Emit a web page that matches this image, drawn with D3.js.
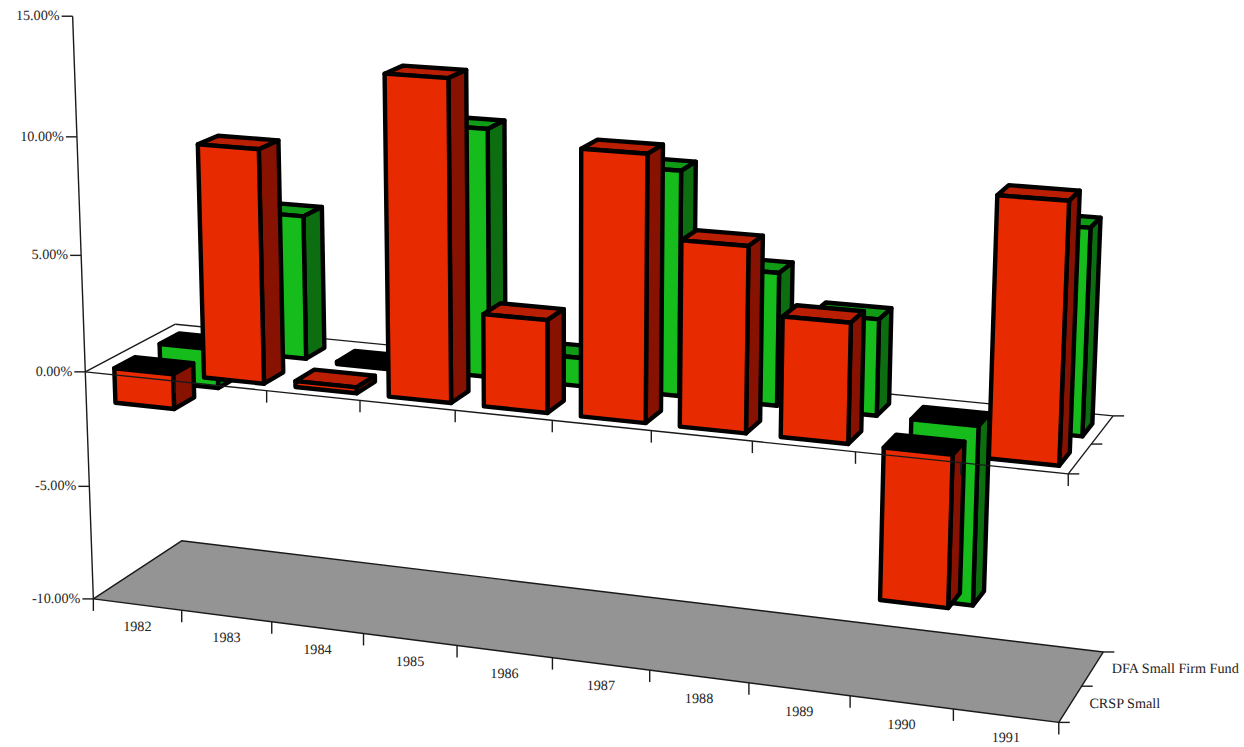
<!DOCTYPE html>
<html><head><meta charset="utf-8">
<script src="https://cdn.jsdelivr.net/npm/d3@7/dist/d3.min.js"></script>
<style>html,body{margin:0;padding:0;background:#fff}svg{display:block}text{font-family:"Liberation Serif","Times New Roman",serif;font-size:14.2px;fill:#222;text-rendering:geometricPrecision}</style>
</head><body><svg id="c" width="1244" height="747"></svg>
<script>
const years=["1982","1983","1984","1985","1986","1987","1988","1989","1990","1991"];
const seriesNames=["CRSP Small","DFA Small Firm Fund"];
const crspSmall=[-1.5,9.87,0.25,13.34,3.84,10.9,7.56,4.87,-6.23,10.33];
const dfaSmall=[-1.7,6.18,-0.1,10.5,1.2,9.38,5.52,3.98,-7.5,8.38];
const valueTicks=[-10,-5,0,5,10,15];
const colors=[{front:"#e82a00",top:"#ba1f04",side:"#881202"},{front:"#16bc1c",top:"#109a15",side:"#0c6e10"}];
// camera calibration: [x,value,z] in chart space -> page pixel
const calib=[[0,-10,0,93,599],[0,-10,2,182,541],[10,-10,2,1103,652],[10,-10,0,1059,722],[0,0,0,86,372],[0,0,2,175,324],[10,0,2,1113,416],[10,0,0,1068,473],[0,15,0,73,16],[0,10,0,77,137],[0,5,0,81,255],[0,-5,0,89,486],[10,0,1,1092,444],[10,-10,1,1082,686],[5,0,0,552,422],[2,0,0,266,390],[1,-10,0,182,610],[2,-10,0,272,622],[7,0,0,752,442]];
function solve(A,b){const n=b.length;const M=A.map((r,i)=>[...r,b[i]]);for(let i=0;i<n;i++){let p=i;for(let k=i+1;k<n;k++)if(Math.abs(M[k][i])>Math.abs(M[p][i]))p=k;[M[i],M[p]]=[M[p],M[i]];for(let k=0;k<n;k++){if(k===i)continue;const f=M[k][i]/M[i][i];for(let j=i;j<=n;j++)M[k][j]-=f*M[i][j];}}return M.map((r,i)=>r[n]/r[i]);}
const rows=[],rhs=[];
calib.forEach(([x,y,z,u,v])=>{rows.push([x,y,z,1,0,0,0,0,-u*x,-u*y,-u*z]);rhs.push(u);rows.push([0,0,0,0,x,y,z,1,-v*x,-v*y,-v*z]);rhs.push(v);});
const ATA=d3.range(11).map(i=>d3.range(11).map(j=>d3.sum(rows,r=>r[i]*r[j])));
const ATb=d3.range(11).map(i=>d3.sum(rows,(r,k)=>r[i]*rhs[k]));
const P=solve(ATA,ATb);
function project(x,y,z){const w=P[8]*x+P[9]*y+P[10]*z+1;return [(P[0]*x+P[1]*y+P[2]*z+P[3])/w,(P[4]*x+P[5]*y+P[6]*z+P[7])/w];}
const xScale=d3.scaleBand().domain(years).range([0,10]);
const zScale=d3.scaleBand().domain(seriesNames).range([0,2]);
const yScale=d3.scaleLinear().domain([-10,15]).range([-10,15]);
const barX=[0.21,0.868],barZ=[0.22,0.67];
const svg=d3.select("#c"),line=d3.line();
const cellX=y=>xScale(y),cellZ=s=>zScale(s);
function poly(g,pts,fill,sw,stroke){return g.append("path").attr("d",line(pts)+"Z").attr("fill",fill).attr("stroke",stroke||"#000").attr("stroke-width",sw).attr("stroke-linejoin","round");}
function seg(g,a,b){g.append("path").attr("d",line([a,b])).attr("fill","none").attr("stroke","#1a1a1a").attr("stroke-width",1.4);}
const floor=yScale(-10),zero=yScale(0);
const base=svg.append("g");
poly(base,[project(0,floor,0),project(0,floor,2),project(10,floor,2),project(10,floor,0)],"#949494",1.4,"#1a1a1a");
// value axis
seg(base,project(0,yScale(15),0),project(0,floor,0));
{const p=project(0,floor,0);seg(base,p,[p[0],p[1]+12]);}
valueTicks.forEach(t=>{const p=project(0,yScale(t),0);seg(base,p,[p[0]-11,p[1]]);
 base.append("text").attr("x",p[0]-13).attr("y",p[1]+4).attr("text-anchor","end").text(d3.format(".2f")(t).replace("\u2212","-")+"%");});
// category ticks, series ticks on floor
function frameTicks(g,level){
 d3.range(1,11).forEach(i=>{const p=project(i,level,0);seg(g,p,[p[0],p[1]+12]);});
 d3.range(0,3).forEach(k=>{const p=project(10,level,k);seg(g,p,[p[0]+11,p[1]]);});
}
frameTicks(base,floor);
years.forEach(y=>{const p=project(xScale(y)+xScale.bandwidth()/2,floor,0);
 base.append("text").attr("x",p[0]).attr("y",p[1]+26.5).attr("text-anchor","middle").text(y);});
seriesNames.forEach(s=>{const p=project(10,floor,zScale(s)+zScale.bandwidth()/2);
 base.append("text").attr("x",p[0]+19).attr("y",p[1]+4).text(s);});
function bar(g,year,si,val){
 const c=colors[si],s=seriesNames[si],x0=cellX(year)+barX[0],x1=cellX(year)+barX[1],z0=cellZ(s)+barZ[0],z1=cellZ(s)+barZ[1];
 const hi=yScale(Math.max(val,0)),lo=yScale(Math.min(val,0));
 poly(g,[project(x0,hi,z0),project(x0,hi,z1),project(x1,hi,z1),project(x1,hi,z0)],val<0?"#000":c.top,4.4);
 poly(g,[project(x1,lo,z0),project(x1,lo,z1),project(x1,hi,z1),project(x1,hi,z0)],c.side,4.4);
 poly(g,[project(x0,lo,z0),project(x1,lo,z0),project(x1,hi,z0),project(x0,hi,z0)],c.front,4.4);
}
const series=[dfaSmall,crspSmall],idx=[1,0];
const neg=svg.append("g");
series.forEach((vals,k)=>vals.forEach((v,i)=>{if(v<0)bar(neg,years[i],idx[k],v);}));
const frame=svg.append("g");
[[[0,0],[0,2]],[[0,2],[10,2]],[[10,2],[10,0]],[[10,0],[0,0]]].forEach(([a,b])=>seg(frame,project(a[0],zero,a[1]),project(b[0],zero,b[1])));
frameTicks(frame,zero);
const pos=svg.append("g");
series.forEach((vals,k)=>vals.forEach((v,i)=>{if(v>=0)bar(pos,years[i],idx[k],v);}));
</script></body></html>
